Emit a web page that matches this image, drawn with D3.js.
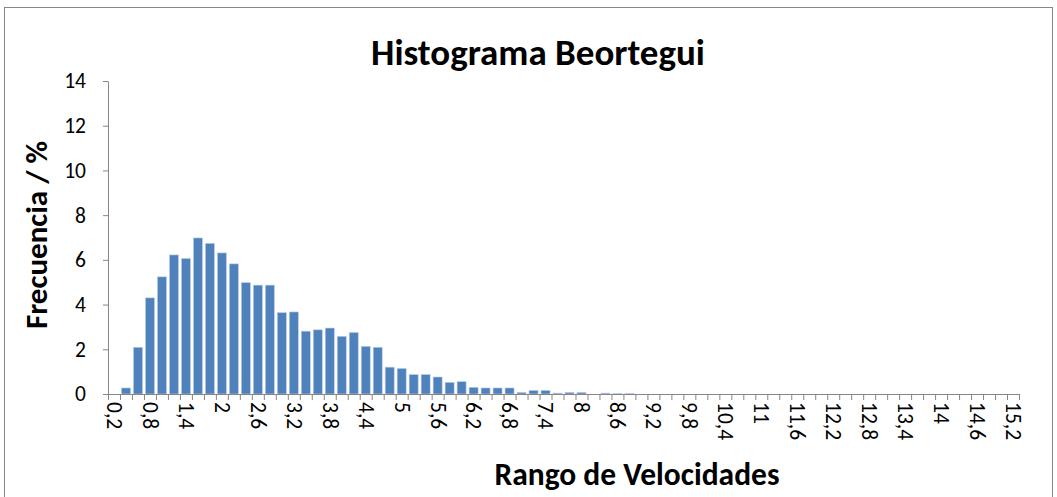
<!DOCTYPE html>
<html>
<head>
<meta charset="utf-8">
<script src="https://cdn.jsdelivr.net/npm/d3@7"></script>
<style>
  body { margin: 0; background: #fff; }
  text { font-family: Carlito, Calibri, "Open Sans", "Liberation Sans", sans-serif; }
</style>
</head>
<body>
<div id="chart"></div>
<script>
// category starts 0,2 .. 15,2 (step 0,2)
var categories = ["0,2","0,4","0,6","0,8","1","1,2","1,4","1,6","1,8","2","2,2","2,4","2,6","2,8","3","3,2","3,4","3,6","3,8","4","4,2","4,4","4,6","4,8","5","5,2","5,4","5,6","5,8","6","6,2","6,4","6,6","6,8","7","7,2","7,4","7,6","7,8","8","8,2","8,4","8,6","8,8","9","9,2","9,4","9,6","9,8","10","10,2","10,4","10,6","10,8","11","11,2","11,4","11,6","11,8","12","12,2","12,4","12,6","12,8","13","13,2","13,4","13,6","13,8","14","14,2","14,4","14,6","14,8","15","15,2"];

var frequency = [0, 0.27, 2.09, 4.3, 5.24, 6.22, 6.06, 6.98, 6.74, 6.31, 5.82, 4.98, 4.87, 4.87,
  3.64, 3.67, 2.81, 2.87, 2.95, 2.58, 2.75, 2.13, 2.09, 1.2, 1.14, 0.87, 0.87, 0.76, 0.52, 0.55,
  0.3, 0.27, 0.27, 0.27, 0.07, 0.16, 0.16, 0.04, 0.07, 0.07, 0, 0.04, 0.02, 0.02,
  0, 0, 0, 0, 0, 0, 0, 0, 0, 0, 0, 0, 0, 0, 0, 0, 0, 0, 0, 0, 0, 0, 0, 0, 0, 0, 0, 0, 0, 0, 0, 0];

var yTicks = [0, 2, 4, 6, 8, 10, 12, 14];

var width = 1057, height = 497;
var margin = { top: 81, right: 38, bottom: 103, left: 108 };

var svg = d3.select("#chart").append("svg")
  .attr("width", width)
  .attr("height", height);

// outer chart border
svg.append("rect")
  .attr("x", 4.5).attr("y", 7.5)
  .attr("width", 1048).attr("height", 495)
  .attr("fill", "none")
  .attr("stroke", "#868686")
  .attr("stroke-width", 1);

var x = d3.scaleBand()
  .domain(categories)
  .range([margin.left, width - margin.right])
  .paddingInner(0.25)
  .paddingOuter(0.125);

// linear scale over category boundaries for the tick marks
var xb = d3.scaleLinear()
  .domain([0, categories.length])
  .range([margin.left, width - margin.right]);

var y = d3.scaleLinear()
  .domain([0, 14])
  .range([height - margin.bottom, margin.top]);

// bars
svg.selectAll(".bar")
  .data(frequency)
  .enter()
  .append("rect")
  .attr("class", "bar")
  .attr("x", function(d, i) { return x(categories[i]); })
  .attr("y", function(d) { return y(d); })
  .attr("width", x.bandwidth())
  .attr("height", function(d) { return y(0) - y(d); })
  .attr("fill", "#4f81bd")
  .attr("stroke", function(d) { return d > 0 ? "#b9cde5" : "none"; })
  .attr("stroke-width", 0.6);

// y axis
var yAxis = svg.append("g")
  .attr("transform", "translate(" + margin.left + ",0)")
  .call(d3.axisLeft(y).tickValues(yTicks).tickSize(5).tickPadding(17).tickSizeOuter(0));
yAxis.select(".domain").attr("stroke", "#868686");
yAxis.selectAll(".tick line").attr("stroke", "#868686");
yAxis.selectAll(".tick text")
  .attr("font-size", 21.5)
  .attr("fill", "#000");

// x axis: boundary ticks
var xTicks = svg.append("g")
  .attr("transform", "translate(0," + (height - margin.bottom) + ")")
  .call(d3.axisBottom(xb).tickValues(d3.range(categories.length + 1)).tickSize(6).tickFormat("").tickSizeOuter(0));
xTicks.select(".domain").attr("stroke", "#868686");
xTicks.selectAll(".tick line").attr("stroke", "#868686");

// x axis labels (every third category)
var labelCats = categories.filter(function(d, i) { return i % 3 === 0; });
var xLabels = svg.append("g")
  .attr("transform", "translate(0," + (height - margin.bottom) + ")")
  .call(d3.axisBottom(x).tickValues(labelCats).tickSize(0).tickPadding(0));
xLabels.select(".domain").remove();
xLabels.selectAll(".tick text")
  .attr("font-size", 21.5)
  .attr("fill", "#000")
  .attr("text-anchor", "start")
  .attr("transform", "rotate(90)")
  .attr("x", 8)
  .attr("y", 0)
  .attr("dy", "0.33em");

// title
svg.append("text")
  .attr("x", 538)
  .attr("y", 65)
  .attr("text-anchor", "middle")
  .attr("font-size", 37)
  .attr("font-weight", "bold")
  .text("Histograma Beortegui");

// axis titles
svg.append("text")
  .attr("transform", "translate(47,235) rotate(-90)")
  .attr("text-anchor", "middle")
  .attr("font-size", 31)
  .attr("font-weight", "bold")
  .text("Frecuencia / %");

svg.append("text")
  .attr("x", 637)
  .attr("y", 485)
  .attr("text-anchor", "middle")
  .attr("font-size", 31.5)
  .attr("font-weight", "bold")
  .text("Rango de Velocidades");
</script>
</body>
</html>
